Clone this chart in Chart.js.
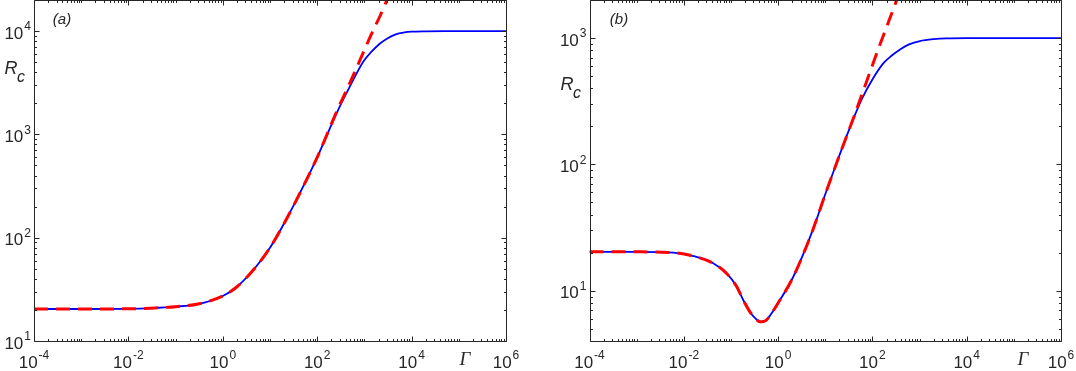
<!DOCTYPE html>
<html>
<head>
<meta charset="utf-8">
<script src="https://cdn.jsdelivr.net/npm/chart.js@4.4.0/dist/chart.umd.min.js"></script>
<style>
    html, body { margin: 0; padding: 0; background: #fff; }
    #wrap { position: relative; width: 1076px; height: 371px; overflow: hidden; }
    #chartA { position: absolute; left: 0; top: 0; }
    #chartB { position: absolute; left: 540px; top: 0; }
</style>
</head>
<body>
<div id="wrap">
    <canvas id="chartA" width="540" height="371"></canvas>
    <canvas id="chartB" width="536" height="371"></canvas>
</div>
<script>
// 图 (a) 数据：蓝色实线为完整解，红色虚线为渐近式
const gammaA = [1e-4, 1e-3, 1e-2, 0.03, 0.1, 0.3, 1, 2, 5, 10, 20, 50, 100, 257, 490, 944, 1400, 2140, 3000, 4600, 7000, 1e4, 2e4, 5e4, 1e5, 1e6];
const rcA    = [20.4, 20.4, 20.5, 20.8, 21.5, 22.8, 27.3, 33.5, 52, 80, 138, 310, 600, 1600, 2900, 5060, 6280, 7590, 8450, 9300, 9700, 9870, 9960, 10000, 10000, 10000];
const gammaRedA = [1e-4, 1e-3, 1e-2, 0.03, 0.1, 0.3, 1, 2, 5, 10, 20, 50, 100, 257, 500, 800, 1400, 2140, 3500];
const rcRedA    = [20.4, 20.4, 20.5, 20.8, 21.5, 22.8, 27.3, 33.5, 52, 80, 138, 310, 600, 1650, 3200, 5200, 9300, 14000, 23500];

// 图 (b) 数据
const gammaB = [1e-4, 1e-3, 0.006, 0.0159, 0.042, 0.081, 0.132, 0.183, 0.253, 0.33, 0.41, 0.5, 0.573, 1.0, 2.1, 5.4, 10, 20, 40, 60, 100, 170, 250, 400, 600, 1020, 2000, 3760, 1e4, 1e6];
const rcB    = [20.3, 20.3, 20.0, 18.8, 16.5, 13.7, 10.8, 8.4, 6.8, 6.05, 5.67, 5.72, 5.9, 8.0, 12.9, 30, 58, 118, 232, 330, 470, 630, 720, 820, 890, 946, 980, 995, 1000, 1000];
const gammaRedB = [1e-4, 1e-3, 0.006, 0.0159, 0.042, 0.081, 0.132, 0.183, 0.253, 0.33, 0.41, 0.5, 0.573, 1.0, 2.1, 5.4, 10, 20, 40, 70, 133, 327, 500];
const rcRedB    = [20.3, 20.3, 20.0, 18.8, 16.5, 13.7, 10.8, 8.4, 6.8, 6.05, 5.67, 5.72, 5.9, 8.0, 12.9, 30, 58, 118, 235, 420, 815, 1990, 3050];

// 刻度标签（10 的幂，指数单独列出）
const xTickVals = [1e-4, 1e-2, 1, 1e2, 1e4, 1e6];
const xTickExps = ['-4', '-2', '0', '2', '4', '6'];
const yTickValsA = [10, 100, 1000, 10000];
const yTickExpsA = ['1', '2', '3', '4'];
const yTickValsB = [10, 100, 1000];
const yTickExpsB = ['1', '2', '3'];

const axisColor = '#262626';
const baseFont = '17px "Liberation Sans", Arial, sans-serif';
const expFont = '12px "Liberation Sans", Arial, sans-serif';

function sameVal(a, b) {
    return Math.abs(a / b - 1) < 1e-6;
}

// 对数轴的次刻度 1..9 × 10^k
function logTicks(min, max) {
    const out = [];
    for (let e = Math.floor(Math.log10(min)); e <= Math.ceil(Math.log10(max)); e++) {
        for (let m = 1; m <= 9; m++) {
            const v = m * Math.pow(10, e);
            if (v >= min * (1 - 1e-9) && v <= max * (1 + 1e-9)) out.push(v);
        }
    }
    return out;
}

function toPoints(xs, ys) {
    return xs.map((x, i) => ({ x: x, y: ys[i] }));
}

// 画 "10^n"，align 为 'center' 或 'right'
function drawPow(ctx, exp, x, y, align) {
    ctx.font = baseFont;
    const w1 = ctx.measureText('10').width;
    ctx.font = expFont;
    const w2 = ctx.measureText(exp).width;
    const total = w1 + 1 + w2;
    const left = align === 'center' ? x - total / 2 : x - total;
    ctx.textAlign = 'left';
    ctx.textBaseline = 'middle';
    ctx.font = baseFont;
    ctx.fillText('10', left, y);
    ctx.font = expFont;
    ctx.fillText(exp, left + w1 + 1, y - 7);
}

// 边框、内侧刻度和文字
const boxPlugin = {
    id: 'matlabBox',
    afterDraw(chart, args, opts) {
        const ctx = chart.ctx;
        const a = chart.chartArea;
        const xs = chart.scales.x;
        const ys = chart.scales.y;
        const L = Math.round(a.left) + 0.5, R = Math.round(a.right) + 0.5;
        const T = Math.round(a.top) + 0.5, B = Math.round(a.bottom) + 0.5;
        ctx.save();
        ctx.strokeStyle = axisColor;
        ctx.lineWidth = 1;
        ctx.beginPath();
        ctx.rect(L, T, R - L, B - T);
        xs.ticks.forEach(t => {
            const px = Math.round(xs.getPixelForValue(t.value)) + 0.5;
            const len = xTickVals.some(v => sameVal(v, t.value)) ? 5 : 2.5;
            ctx.moveTo(px, B); ctx.lineTo(px, B - len);
            ctx.moveTo(px, T); ctx.lineTo(px, T + len);
        });
        ys.ticks.forEach(t => {
            const py = Math.round(ys.getPixelForValue(t.value)) + 0.5;
            const len = opts.yVals.some(v => sameVal(v, t.value)) ? 5 : 2.5;
            ctx.moveTo(L, py); ctx.lineTo(L + len, py);
            ctx.moveTo(R, py); ctx.lineTo(R - len, py);
        });
        ctx.stroke();

        ctx.fillStyle = axisColor;
        xTickVals.forEach((v, i) => {
            drawPow(ctx, xTickExps[i], xs.getPixelForValue(v), a.bottom + 22, 'center');
        });
        opts.yVals.forEach((v, i) => {
            drawPow(ctx, opts.yExps[i], a.left - 3, ys.getPixelForValue(v) + 3, 'right');
        });

        ctx.textAlign = 'center';
        ctx.textBaseline = 'middle';
        ctx.font = 'italic 15px "Liberation Sans", Arial, sans-serif';
        ctx.fillText(opts.panel, opts.panelPos[0], opts.panelPos[1]);
        ctx.font = 'italic 18px "Liberation Sans", Arial, sans-serif';
        ctx.fillText('R', opts.rPos[0], opts.rPos[1]);
        ctx.font = 'italic 16px "Liberation Sans", Arial, sans-serif';
        ctx.fillText('c', opts.rPos[0] + 10, opts.rPos[1] + 9);
        ctx.font = 'italic 19px "Liberation Serif", "Times New Roman", serif';
        ctx.fillText('Γ', opts.gammaPos[0], opts.gammaPos[1]);
        ctx.restore();
    }
};

function makeChart(id, cfg) {
    const ctx = document.getElementById(id).getContext('2d');
    return new Chart(ctx, {
        type: 'line',
        data: {
            datasets: [
                {
                    label: 'asymptotic',
                    data: toPoints(cfg.redX, cfg.redY),
                    borderColor: '#ff0000',
                    borderWidth: 3,
                    borderDash: [14, 8],
                    pointRadius: 0,
                    fill: false,
                    cubicInterpolationMode: 'monotone',
                    clip: 0
                },
                {
                    label: 'R_c',
                    data: toPoints(cfg.blueX, cfg.blueY),
                    borderColor: '#0000ff',
                    borderWidth: 1.8,
                    pointRadius: 0,
                    fill: false,
                    cubicInterpolationMode: 'monotone',
                    clip: 0
                }
            ]
        },
        options: {
            responsive: false,
            animation: false,
            layout: { padding: { left: 0, right: cfg.padRight, top: 0, bottom: 0 } },
            scales: {
                x: {
                    type: 'logarithmic',
                    min: 1e-4,
                    max: 1e6,
                    grid: { display: false, drawTicks: false },
                    border: { display: false },
                    afterBuildTicks: (scale) => {
                        scale.ticks = logTicks(1e-4, 1e6).map(v => ({ value: v }));
                    },
                    afterFit: (scale) => {
                        scale.height = 30;
                        scale.paddingLeft = 0;
                        scale.paddingRight = 0;
                    },
                    ticks: { display: false, autoSkip: false }
                },
                y: {
                    type: 'logarithmic',
                    min: cfg.yMin,
                    max: cfg.yMax,
                    grid: { display: false, drawTicks: false },
                    border: { display: false },
                    afterBuildTicks: (scale) => {
                        scale.ticks = logTicks(cfg.yMin, cfg.yMax).map(v => ({ value: v }));
                    },
                    afterFit: (scale) => {
                        scale.width = cfg.yWidth;
                        scale.paddingTop = 0;
                        scale.paddingBottom = 0;
                    },
                    ticks: { display: false, autoSkip: false }
                }
            },
            plugins: {
                legend: { display: false },
                tooltip: { enabled: false },
                matlabBox: {
                    yVals: cfg.yVals,
                    yExps: cfg.yExps,
                    panel: cfg.panel,
                    panelPos: cfg.panelPos,
                    rPos: cfg.rPos,
                    gammaPos: cfg.gammaPos
                }
            }
        },
        plugins: [boxPlugin]
    });
}

document.addEventListener('DOMContentLoaded', function() {
    makeChart('chartA', {
        blueX: gammaA, blueY: rcA,
        redX: gammaRedA, redY: rcRedA,
        yMin: 10, yMax: 20000,
        yVals: yTickValsA, yExps: yTickExpsA,
        yWidth: 34, padRight: 34,
        panel: '(a)', panelPos: [62, 20],
        rPos: [11, 69],
        gammaPos: [465, 360]
    });
    makeChart('chartB', {
        blueX: gammaB, blueY: rcB,
        redX: gammaRedB, redY: rcRedB,
        yMin: 4, yMax: 2000,
        yVals: yTickValsB, yExps: yTickExpsB,
        yWidth: 49.5, padRight: 15,
        panel: '(b)', panelPos: [79, 20],
        rPos: [27, 85],
        gammaPos: [483, 360]
    });
});
</script>
</body>
</html>
